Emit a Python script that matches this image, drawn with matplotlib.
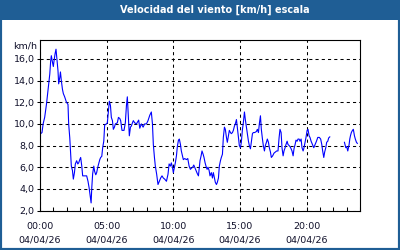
import numpy as np
import matplotlib
matplotlib.use('Agg')
import matplotlib.pyplot as plt
from matplotlib.patches import Rectangle
from matplotlib.ticker import FuncFormatter, MultipleLocator

# minutes since 00:00 and wind speed [km/h]
minutes = [3, 9, 14, 21, 29, 36, 44, 48, 51, 56, 60, 63, 68, 72, 77, 81, 84, 89, 92, 96,
           101, 105, 111, 119, 126, 129, 134, 137, 141, 146, 150, 155, 159, 165, 170, 174,
           179, 183, 188, 192, 201, 210, 216, 221, 225, 230, 233, 237, 242, 246, 251, 255,
           260, 264, 269, 273, 278, 282, 287, 291, 299, 303, 308, 312, 317, 321, 326, 330,
           335, 339, 348, 353, 359,
           363, 369, 378, 384, 389, 393, 398, 402, 407, 411, 416, 420, 426, 434, 440, 444,
           449, 456, 464, 471, 479, 486, 494, 501, 506, 510, 515, 519, 525, 531, 537, 543,
           549, 555, 561, 569, 576, 581, 587, 591, 596, 600, 605, 609, 614, 618, 623, 627,
           632, 636, 641, 645, 651, 659, 665, 671, 677, 681, 687, 692, 696, 702, 708, 713,
           716, 720, 725, 729, 734, 738, 743, 747, 752, 756, 761, 765, 771, 776, 780, 785,
           789, 794, 798, 803, 807, 812, 816, 821, 825, 830, 834, 839, 843, 848, 852, 857,
           861, 866, 870, 875, 879, 884, 888, 893, 897, 902, 906, 911, 915, 920, 924, 929,
           933, 938, 942, 947, 951, 956, 960, 966, 974, 978, 983, 987, 992, 996, 1001, 1005,
           1010, 1014, 1019, 1023, 1028, 1032, 1037, 1041, 1047, 1053, 1059, 1065, 1071,
           1076, 1080, 1085, 1089, 1094, 1098, 1103, 1107, 1112, 1116, 1121, 1125, 1130,
           1134, 1139, 1143, 1148, 1152, 1157, 1161, 1166, 1170, 1175, 1179, 1184, 1188,
           1193, 1197, 1202, 1206, 1211, 1215, 1220, 1226, 1232, 1238, 1244, 1250, 1257,
           1263, 1268, 1272, 1277, 1281, 1286, 1290, 1295, 1299, 1304,
           1335,
           1370, 1376, 1380, 1385, 1391, 1394, 1397, 1401, 1406, 1410, 1415, 1419, 1424, 1428]
speed = [9.1, 9.2, 10.0, 10.6, 11.8, 13.1, 14.6, 15.8, 16.3, 15.7, 15.3, 15.8, 16.5, 16.9,
         15.8, 14.9, 13.7, 14.3, 14.8, 14.0, 13.2, 12.8, 12.5, 12.0, 11.8, 10.0, 8.7, 7.5,
         6.1, 5.7, 4.9, 5.5, 6.3, 6.6, 6.3, 6.4, 6.7, 6.9, 6.1, 5.2, 5.2, 5.2, 4.7, 4.1, 3.5,
         2.7, 4.1, 5.4, 6.1, 5.6, 5.3, 5.5, 6.0, 6.3, 6.7, 6.9, 7.0, 7.8, 8.4, 9.9, 10.0,
         10.1, 11.2, 12.1, 11.7, 10.6, 10.3, 9.5, 9.7, 10.0, 10.1, 10.6, 10.5,
         10.3, 9.4, 9.4, 10.1, 11.7, 12.5, 10.6, 8.9, 9.7, 9.8, 10.1, 10.3, 10.1, 10.0, 10.2,
         10.35, 9.6, 10.0, 9.7, 10.0, 10.0, 10.3, 10.8, 11.1, 10.0, 8.1, 6.9, 6.1, 5.35, 4.4,
         4.7, 5.0, 5.2, 5.0, 4.9, 4.7, 5.35, 6.3, 6.1, 6.4, 6.0, 5.5, 6.0, 6.4, 7.05, 7.9,
         8.5, 8.6, 8.1, 7.5, 7.05, 6.7, 6.8, 6.7, 6.8, 6.1, 5.8, 5.9, 6.0, 6.2, 6.0, 5.7,
         5.4, 5.2,
         5.8, 6.6, 7.05, 7.5, 7.2, 6.9, 6.4, 6.1, 5.8, 6.0, 5.7, 5.2, 5.5, 5.0, 5.5, 5.0,
         4.6, 4.4, 4.6, 5.0, 6.1, 6.6, 6.9, 7.2, 8.75, 9.7, 9.5, 8.75, 8.3, 8.9, 9.4, 9.2,
         9.1, 9.2, 9.4, 9.8, 10.0, 10.4, 9.7, 8.75, 8.0, 7.8, 8.3, 9.5, 10.1, 11.1, 10.4,
         9.7, 9.1, 8.4, 8.0, 7.7, 8.3, 9.1, 9.2, 9.2, 9.3, 9.5, 9.2, 10.0, 10.75, 9.5, 8.6,
         8.0, 7.5, 8.0, 8.3, 8.6, 8.3, 7.8, 7.4, 6.9, 7.05, 7.3, 7.4, 7.5, 7.5,
         8.75, 9.5, 9.2, 7.8, 7.05, 7.5, 7.8, 8.1, 8.4, 8.1, 8.0, 7.9, 7.7, 7.5, 7.05, 7.7,
         8.1, 8.5, 8.4, 8.6, 8.6, 8.4, 8.6, 7.8, 7.5, 7.8, 8.3, 8.75, 9.4, 9.5, 8.9, 8.75,
         8.4, 8.1, 7.8, 8.1, 8.4, 8.75, 8.75, 8.6, 8.1, 7.5, 6.9, 7.4, 7.8, 8.3, 8.4, 8.7,
         8.8,
         np.nan,
         8.3, 7.8, 7.9, 7.5, 8.1, 8.6, 8.9, 9.2, 9.4, 9.5, 8.9, 8.6, 8.3, 8.2]

tick_hours = [0, 5, 10, 15, 20]
tick_labels = ['00:00\n04/04/26', '05:00\n04/04/26', '10:00\n04/04/26',
               '15:00\n04/04/26', '20:00\n04/04/26']
title = 'Velocidad del viento [km/h] escala'

frame = '#1f5e95'
txt = '#10102a'

fig = plt.figure(figsize=(4, 2.5), dpi=100)
fig.patch.set_facecolor('white')
# blue frame and title bar
fig.add_artist(Rectangle((0, 0), 1, 1, transform=fig.transFigure, fill=False,
                         edgecolor=frame, linewidth=3))
fig.add_artist(Rectangle((0, 1 - 20 / 250), 1, 20 / 250, transform=fig.transFigure,
                         facecolor=frame, edgecolor='none'))
fig.text(0.537, 1 - 10 / 250, title, color='white', fontsize=7, fontweight='bold',
         ha='center', va='center')

ax = fig.add_axes([40 / 400, 1 - 210.5 / 250, 320 / 400, 170.5 / 250])
hours = np.array(minutes) / 60.0
ax.plot(hours, speed, color='#0000ff', lw=0.8)

ax.set_xlim(0, 24)
ax.set_ylim(2, 17.75)
ax.set_yticks(np.arange(2, 17, 2))
ax.yaxis.set_major_formatter(FuncFormatter(lambda v, p: ('%.1f' % v).replace('.', ',')))
ax.set_xticks(tick_hours)
ax.set_xticklabels(tick_labels)
ax.xaxis.set_minor_locator(MultipleLocator(1))
for lab in ax.get_xticklabels():
    lab.set_linespacing(1.6)

ax.grid(True, color='black', ls=(0, (3, 3)), lw=0.75)
ax.tick_params(axis='x', which='both', direction='in', length=3, width=0.75,
               labelsize=6.8, labelcolor=txt, pad=8.5)
ax.tick_params(axis='y', direction='out', length=2, width=0.75,
               labelsize=6.8, labelcolor=txt, pad=2)
for s in ax.spines.values():
    s.set_linewidth(0.8)

fig.text(37 / 400, 1 - 46 / 250, 'km/h', fontsize=6.8, color=txt, ha='right', va='center')

fig.savefig('out.png', dpi=100)
